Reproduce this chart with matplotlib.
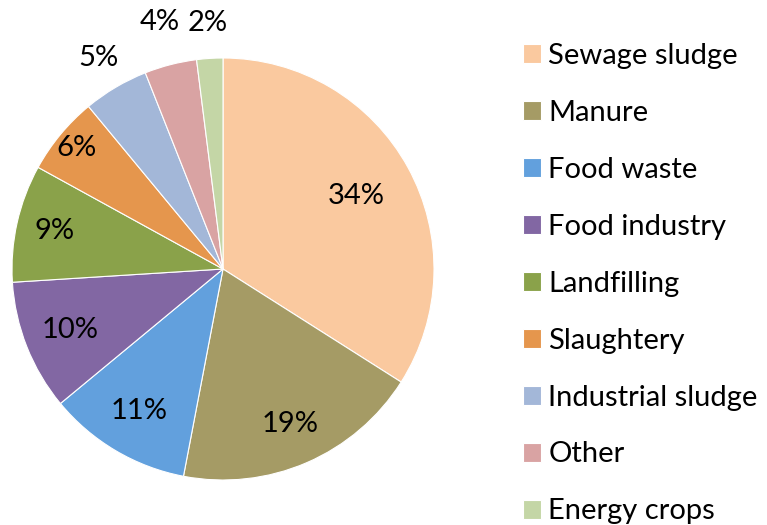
import numpy as np
import matplotlib
matplotlib.use("Agg")
import matplotlib.pyplot as plt

plt.rcParams['font.family'] = ['Lato', 'DejaVu Sans']

sources = ["Sewage sludge", "Manure", "Food waste", "Food industry", "Landfilling",
           "Slaughtery", "Industrial sludge", "Other", "Energy crops"]
shares = [34, 19, 11, 10, 9, 6, 5, 4, 2]
colors = ["#FAC99F", "#A59B65", "#62A0DD", "#8267A3", "#8AA24A",
          "#E5964D", "#A3B7D8", "#D9A3A3", "#C4D6A6"]

# radial position of each percentage label (fraction of radius)
label_r = [0.72, 0.80, 0.78, 0.78, 0.82, 0.90, 1.16, 1.21, 1.17]

fig = plt.figure(figsize=(7.67, 5.25), dpi=100)
ax = fig.add_axes([12 / 767, 45 / 525, 422 / 767, 422 / 525])

wedges, texts = ax.pie(shares, colors=colors, startangle=90, counterclock=False,
                       radius=1, wedgeprops=dict(edgecolor="white", linewidth=0.8))

for w, val, r in zip(wedges, shares, label_r):
    mid = np.deg2rad((w.theta1 + w.theta2) / 2)
    ax.text(r * np.cos(mid), r * np.sin(mid), f"{val}%", ha="center", va="center",
            fontsize=21, color="black", clip_on=False)

ax.set_xlim(-1, 1)
ax.set_ylim(-1, 1)
ax.set_aspect("equal")
ax.axis("off")

fig.legend(wedges, sources, loc="upper left", bbox_to_anchor=(523 / 767, 1 - 43 / 525),
           frameon=False, fontsize=21, handlelength=0.62, handleheight=0.62,
           handletextpad=0.25, labelspacing=1.06, borderaxespad=0, borderpad=0)

fig.savefig("out.png", dpi=100)
